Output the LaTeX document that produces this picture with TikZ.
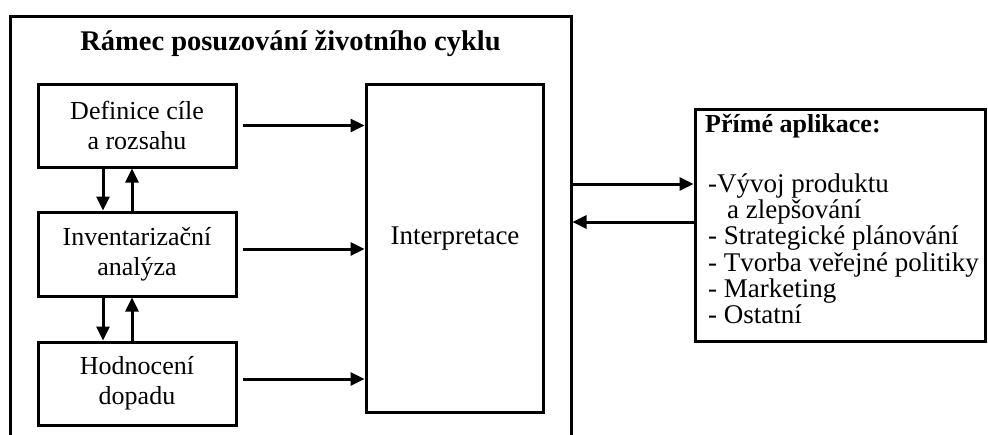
\documentclass[tikz,border=0pt]{standalone}
\usepackage{fontspec}
\setmainfont{Liberation Serif}
\usetikzlibrary{arrows.meta}
\newcommand{\fsbox}{\fontsize{26}{30}\selectfont}
\newcommand{\fslist}{\fontsize{27}{30}\selectfont}
\newcommand{\fsbig}{\fontsize{27}{30}\selectfont}
\newcommand{\fstitle}{\fontsize{28.5}{30}\selectfont\bfseries}
\begin{document}
\begin{tikzpicture}[x=1pt,y=-1pt,
  box/.style={draw,line width=3pt,inner sep=0pt,align=center,font=\fsbox},
  arr/.style={line width=3pt,-{Triangle[length=14pt,width=13pt]}},
  txt/.style={anchor=base west,font=\fslist,inner sep=0pt},
]
\useasboundingbox (0,0) rectangle (988,434);
\clip (0,0) rectangle (988,434);
\fill[white] (0,0) rectangle (988,434);
% outer frame
\node[box,minimum width=561pt,minimum height=440pt] (frame) at (290.5,236) {};
\node[anchor=base,font=\fstitle,inner sep=0pt] (title) at (290.5,50) {Rámec posuzování životního cyklu};
% phase boxes
\node[box,minimum width=198pt,minimum height=83pt] (def) at (137,125.5) {Definice cíle\\a rozsahu};
\node[box,minimum width=198pt,minimum height=84pt] (inv) at (137,254) {Inventarizační\\analýza};
\node[box,minimum width=198pt,minimum height=83pt] (hod) at (137,383.5) {Hodnocení\\dopadu};
\node[box,minimum width=177pt,minimum height=328pt] (interp) at (454.5,248) {};
\node[anchor=base,font=\fsbig,inner sep=0pt] (interptext) at (455,244) {Interpretace};
% applications box
\node[box,minimum width=290pt,minimum height=232pt] (apps) at (840,225) {};
\node[txt,font=\fsbox\bfseries] (apph) at (705,132) {Přímé aplikace:};
\node[txt] (a1) at (708,192) {-Vývoj produktu};
\node[txt] (a2) at (727,218) {a zlepšování};
\node[txt] (a3) at (708,244) {- Strategické plánování};
\node[txt] (a4) at (708,271) {- Tvorba veřejné politiky};
\node[txt] (a5) at (708,297) {- Marketing};
\node[txt] (a6) at (708,323) {- Ostatní};
% arrows to interpretation
\draw[arr] ([xshift=5pt]def.east) -- (def.east -| interp.west);
\draw[arr] ([xshift=5pt,yshift=5pt]inv.east) -- ([yshift=5pt]inv.east -| interp.west);
\draw[arr] ([xshift=5pt,yshift=4.5pt]hod.east) -- ([yshift=4.5pt]hod.east -| interp.west);
% vertical arrows
\draw[arr] ([xshift=-34pt]def.south) -- ([xshift=-34pt]inv.north);
\draw[arr] ([xshift=-5pt]inv.north) -- ([xshift=-5pt]def.south);
\draw[arr] ([xshift=-34pt]inv.south) -- ([xshift=-34pt]hod.north);
\draw[arr] ([xshift=-5pt]hod.north) -- ([xshift=-5pt]inv.south);
% frame <-> applications
\draw[arr] ([yshift=41pt]apps.west -| frame.east) -- ([yshift=41pt]apps.west);
\draw[arr] ([yshift=3pt]apps.west) -- ([yshift=3pt]apps.west -| frame.east);
\end{tikzpicture}
\end{document}
